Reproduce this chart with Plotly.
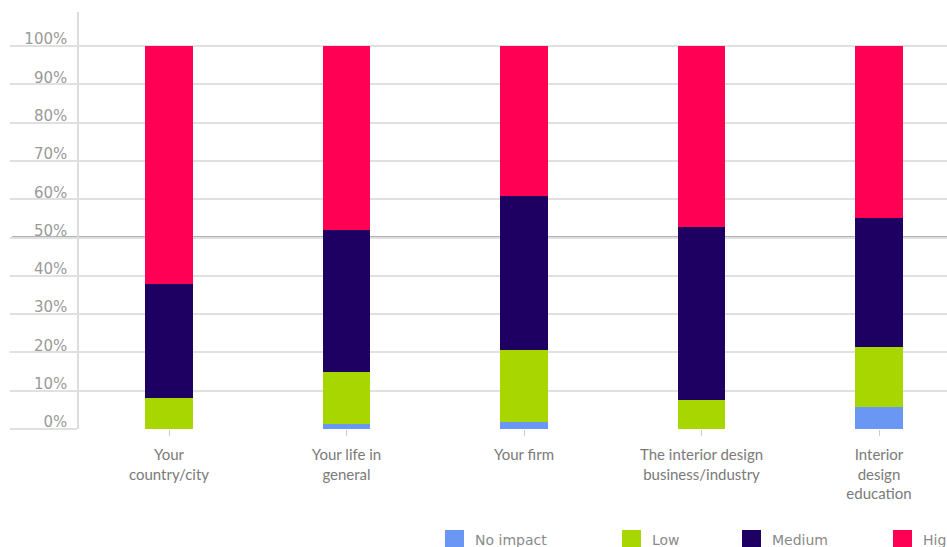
import plotly.graph_objects as go

# Survey: perceived impact by area (share of respondents, %)
categories = [
    "Your<br>country/city",
    "Your life in<br>general",
    "Your firm",
    "The interior design<br>business/industry",
    "Interior<br>design<br>education",
]
series_names = ["No impact", "Low", "Medium", "High"]
no_impact = [0.0, 1.3, 1.9, 0.0, 5.8]
low = [8.0, 13.5, 18.7, 7.7, 15.7]
medium = [29.9, 37.2, 40.2, 45.1, 33.6]
high = [62.1, 48.0, 39.2, 47.2, 44.9]
y_ticks = list(range(0, 101, 10))
y_tick_labels = [f"{v}%" for v in y_ticks]
midline = 50

colors = ["#6A96F4", "#A8D600", "#1D0062", "#FF0055"]
series_values = [no_impact, low, medium, high]

W, H = 947, 547
M_L, M_R, M_T, M_B = 79, 0, 12, 118
grid_color = "#E0E0E0"
text_grey = "#8A8A8A"

fig = go.Figure()
for name, vals, col in zip(series_names, series_values, colors):
    fig.add_trace(go.Bar(
        name=name, x=list(range(len(categories))), y=vals,
        marker=dict(color=col, line=dict(width=0)),
        showlegend=False,
    ))

# thicker reference line at the midpoint
fig.add_shape(type="line", xref="paper", yref="y",
              x0=-(M_L - 12) / (W - M_L - M_R), x1=1, y0=midline, y1=midline,
              line=dict(color="#B0B0B8", width=3), layer="below")

# legend row drawn along the bottom edge
legend_x = [445, 622, 742, 893]
legend_y = 539.5
plot_w = W - M_L - M_R
plot_h = H - M_T - M_B
for name, col, lx in zip(series_names, colors, legend_x):
    xa = (lx - M_L) / plot_w
    ya = (H - M_B - legend_y) / plot_h
    fig.add_shape(type="rect", xref="paper", yref="paper",
                  xsizemode="pixel", ysizemode="pixel",
                  xanchor=xa, yanchor=ya, x0=0, x1=19, y0=-9.5, y1=9.5,
                  fillcolor=col, line=dict(width=0))
    fig.add_annotation(xref="paper", yref="paper",
                       x=(lx + 28 - M_L) / plot_w, y=ya,
                       xanchor="left", yanchor="middle", showarrow=False,
                       text=name, font=dict(family="DejaVu Sans", size=14, color=text_grey))

fig.update_layout(
    width=W, height=H,
    margin=dict(l=M_L, r=M_R, t=M_T, b=M_B, pad=0),
    barmode="stack", bargap=0.73,
    plot_bgcolor="white", paper_bgcolor="white",
    showlegend=False,
)
fig.update_xaxes(
    range=[-(90 / 177.5), (W - 169) / 177.5],
    tickmode="array", tickvals=list(range(len(categories))), ticktext=categories,
    ticks="outside", ticklen=6, tickcolor="#CCCCCC", tickwidth=1,
    ticklabelstandoff=6,
    showgrid=False, zeroline=False, showline=False,
    tickfont=dict(family="Lato", size=15, color="#7A7A7A"),
)
fig.update_yaxes(
    range=[0, 108.9],
    tickmode="array", tickvals=y_ticks, ticktext=y_tick_labels,
    showgrid=True, gridcolor=grid_color, gridwidth=1.5,
    ticks="outside", ticklen=67, tickcolor=grid_color, tickwidth=1.5,
    ticklabelstandoff=-60, ticklabelshift=-7,
    zeroline=False, showline=True, linecolor="#DDDDDD", linewidth=1.5,
    tickfont=dict(family="DejaVu Sans", size=15, color="#9A9A9A"),
)

fig.write_html("out.html")
